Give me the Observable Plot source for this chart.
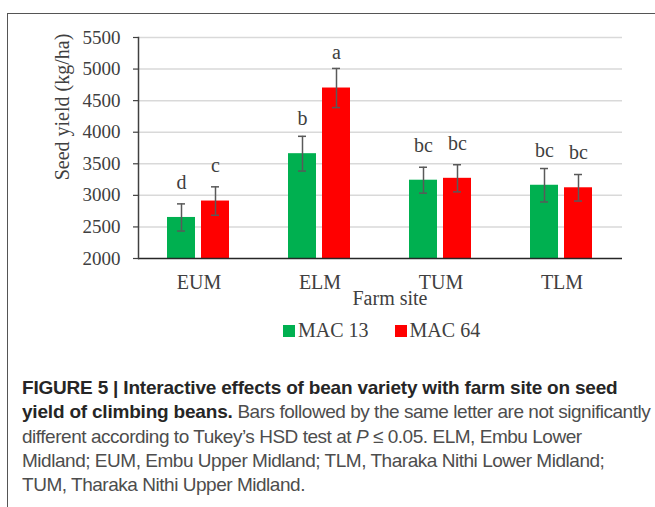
<!DOCTYPE html>
<html>
<head>
<meta charset="utf-8">
<script src="https://cdn.jsdelivr.net/npm/d3@7"></script>
<script src="https://cdn.jsdelivr.net/npm/@observablehq/plot@0.6"></script>
<style>
  html, body { margin: 0; padding: 0; background: #fff; width: 655px; height: 507px; overflow: hidden; }
  #frame { position: absolute; left: 6.5px; top: 12.5px; width: 700px; height: 493px;
           border-top: 1.5px solid #555; border-left: 1.5px solid #555; }
  #chart { position: absolute; left: 0; top: 0; }
  .ylab { position: absolute; left: 62px; top: 107px; transform: translate(-50%, -50%) rotate(-90deg);
          font-family: "Liberation Serif", serif; font-size: 20px; color: #404040; white-space: nowrap; }
  .xlab { position: absolute; left: 390px; top: 298px; transform: translate(-50%, -50%);
          font-family: "Liberation Serif", serif; font-size: 20px; color: #404040; white-space: nowrap; }
  #legend { position: absolute; left: 283px; top: 314px; }
  .lg-swatches { font-family: "Liberation Serif", serif !important; font-size: 20px !important; color: #404040; margin: 0 !important; }
  .lg-swatches-wrap { min-height: 33px !important; }
  .lg-swatch { margin-right: 26px !important; }
  .lg-swatch > svg { margin-right: 3px !important; }
  #caption { position: absolute; left: 22px; top: 376px; font-family: "Liberation Sans", Arial, sans-serif;
             font-size: 19px; line-height: 24.3px; color: #4d4d4d; white-space: nowrap; letter-spacing: -0.47px; }
  #caption b { color: #262626; letter-spacing: -0.2px; }
</style>
</head>
<body>
<div id="frame"></div>
<div id="chart"></div>
<div class="ylab">Seed yield (kg/ha)</div>
<div class="xlab">Farm site</div>
<div id="legend"></div>
<div id="caption"><b>FIGURE 5 | Interactive effects of bean variety with farm site on seed<br>yield of climbing beans.</b> Bars followed by the same letter are not significantly<br>different according to Tukey’s HSD test at <i>P</i> ≤ 0.05. ELM, Embu Lower<br>Midland; EUM, Embu Upper Midland; TLM, Tharaka Nithi Lower Midland;<br>TUM, Tharaka Nithi Upper Midland.</div>
<script>
const sites = ["EUM", "ELM", "TUM", "TLM"];
const varieties = ["MAC 13", "MAC 64"];
const yieldMac13 = [2650, 3660, 3240, 3160];
const yieldMac64 = [2910, 4700, 3270, 3120];
const errMac13 = [215, 275, 205, 265];
const errMac64 = [225, 310, 215, 210];
const lettersMac13 = ["d", "b", "bc", "bc"];
const lettersMac64 = ["c", "a", "bc", "bc"];
const yTicks = [2000, 2500, 3000, 3500, 4000, 4500, 5000, 5500];
const colors = ["#00B050", "#FF0000"];

const data = sites.flatMap((s, i) => [
  {site: s, variety: varieties[0], value: yieldMac13[i], err: errMac13[i], letter: lettersMac13[i]},
  {site: s, variety: varieties[1], value: yieldMac64[i], err: errMac64[i], letter: lettersMac64[i]}
]);

const ink = "#404040";
const errInk = "#595959";

const chart = Plot.plot({
  width: 655,
  height: 345,
  marginLeft: 136,
  marginRight: 32,
  marginTop: 37,
  marginBottom: 87,
  style: {fontFamily: "Liberation Serif, serif", fontSize: "19px", color: ink, background: "transparent"},
  fx: {domain: sites, padding: 0, label: null},
  x: {domain: varieties, paddingInner: 0.174, paddingOuter: 0.855, axis: null},
  y: {domain: [yTicks[0], yTicks[yTicks.length - 1]]},
  color: {domain: varieties, range: colors},
  marks: [
    Plot.gridY(yTicks.slice(1), {stroke: "#d9d9d9", strokeOpacity: 1, strokeWidth: 1.5}),
    Plot.barY(data, {fx: "site", x: "variety", y1: yTicks[0], y2: "value", fill: "variety"}),
    Plot.ruleY([yTicks[0]], {stroke: "#262626", strokeWidth: 1.5}),
    Plot.ruleX(data, {fx: "site", x: "variety", y1: d => d.value - d.err, y2: d => d.value + d.err, stroke: errInk, strokeWidth: 1.5}),
    Plot.tickY(data, {fx: "site", x: "variety", y: d => d.value - d.err, stroke: errInk, strokeWidth: 1.5, insetLeft: 10, insetRight: 10}),
    Plot.tickY(data, {fx: "site", x: "variety", y: d => d.value + d.err, stroke: errInk, strokeWidth: 1.5, insetLeft: 10, insetRight: 10}),
    Plot.text(data, {fx: "site", x: "variety", y: "value", text: "letter", dy: -35, fontSize: 20, fill: ink}),
    Plot.axisY(yTicks, {tickSize: 5, tickPadding: 13, fontSize: 19, label: null, stroke: ink, strokeWidth: 1.2, fill: ink, tickFormat: d3.format("d")}),
    Plot.axisFx({anchor: "bottom", tickSize: 0, tickPadding: 16, fontSize: 20, label: null, fill: ink}),
    Plot.frame({anchor: "left", facetAnchor: "left", stroke: ink, strokeWidth: 1.5})
  ]
});
document.getElementById("chart").appendChild(chart);

const legend = Plot.legend({
  color: {type: "ordinal", domain: varieties, range: colors},
  swatchSize: 12,
  className: "lg"
});
document.getElementById("legend").appendChild(legend);
</script>
</body>
</html>
